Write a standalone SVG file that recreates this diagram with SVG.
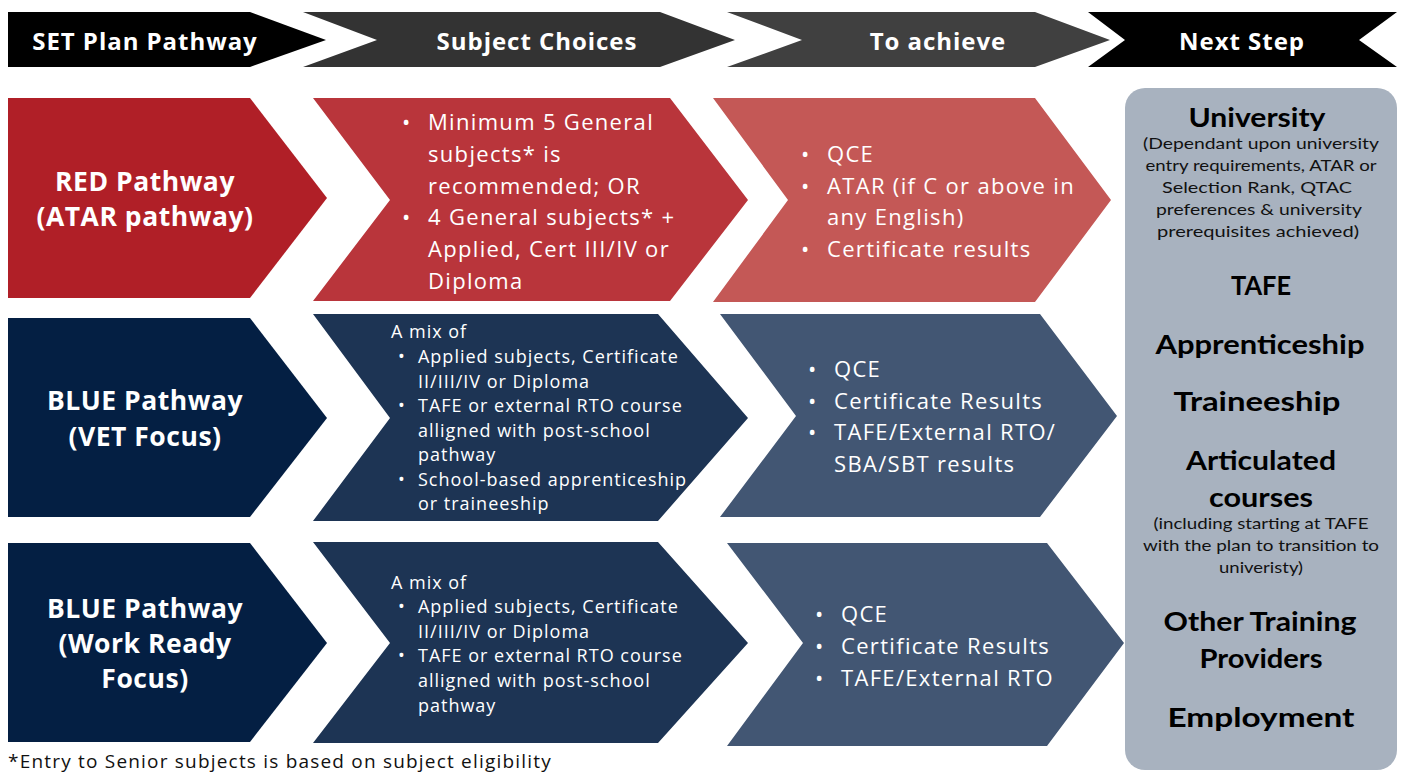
<svg xmlns="http://www.w3.org/2000/svg" width="1405" height="772" viewBox="0 0 1405 772">
<style>
text{font-family:"Open Sans","Liberation Sans",sans-serif;dominant-baseline:central}
.hd{fill:#fff;font-weight:700;font-size:24px;letter-spacing:0.04em;text-anchor:middle}
.lbl{fill:#fff;font-weight:700;font-size:26.5px;letter-spacing:0.02em;text-anchor:middle}
.b{fill:#fff;font-size:22px;letter-spacing:0.06em}
.s{fill:#fff;font-size:18px;letter-spacing:0.055em}
.rt{fill:#000;font-family:Lato,"Open Sans",sans-serif;font-weight:700;font-size:27px;text-anchor:middle}
.rs{fill:#111;font-family:Lato,"Open Sans",sans-serif;font-size:16px;text-anchor:middle}
.fn{fill:#111;font-size:19px;letter-spacing:0.063em}
</style>
<rect width="1405" height="772" fill="#fff"/>
<g id="headers">
<g id="h1"><polygon points="8,12 250,12 326,40 250,67 8,67" fill="#000"/><text class="hd" x="145" y="40">SET Plan Pathway</text></g>
<g id="h2"><polygon points="303,12 660,12 735,40 660,67 303,67 377,40" fill="#333"/><text class="hd" x="537" y="40">Subject Choices</text></g>
<g id="h3"><polygon points="727,12 1035,12 1110,40 1035,67 727,67 802,40" fill="#404040"/><text class="hd" x="938" y="40">To achieve</text></g>
<g id="h4"><polygon points="1088,12 1397,12 1359,40 1397,67 1088,67 1125,40" fill="#000"/><text class="hd" x="1242" y="40">Next Step</text></g>
</g>
<g id="red-row">
<g id="r1"><polygon points="8,98 250,98 327,198 250,298 8,298" fill="#B01F27"/>
<text class="lbl" x="145" y="181">RED Pathway</text><text class="lbl" x="145" y="216">(ATAR pathway)</text></g>
<g id="r2"><polygon points="313,98 670,98 748,200 670,301 313,301 390,200" fill="#B9353B"/>
<text class="b" x="402" y="121">•</text><text class="b" x="428" y="121">Minimum 5 General</text>
<text class="b" x="428" y="153">subjects* is</text>
<text class="b" x="428" y="185">recommended; OR</text>
<text class="b" x="402" y="216">•</text><text class="b" x="428" y="216">4 General subjects* +</text>
<text class="b" x="428" y="248">Applied, Cert III/IV or</text>
<text class="b" x="428" y="280">Diploma</text></g>
<g id="r3"><polygon points="713,98 1035,98 1111,200 1035,302 713,302 788,200" fill="#C45856"/>
<text class="b" x="801" y="153">•</text><text class="b" x="827" y="153">QCE</text>
<text class="b" x="801" y="185">•</text><text class="b" x="827" y="185">ATAR (if C or above in</text>
<text class="b" x="827" y="216">any English)</text>
<text class="b" x="801" y="248">•</text><text class="b" x="827" y="248">Certificate results</text></g>
</g>
<g id="blue-row-1">
<g id="b1"><polygon points="8,318 250,318 327,418 250,517 8,517" fill="#041F43"/>
<text class="lbl" x="145" y="400">BLUE Pathway</text><text class="lbl" x="145" y="436">(VET Focus)</text></g>
<g id="b2"><polygon points="313,314 658,314 748,418 658,521 313,521 390,418" fill="#1D3454"/>
<text class="s" x="391" y="331">A mix of</text>
<text class="s" x="398" y="356">•</text><text class="s" x="418" y="356">Applied subjects, Certificate</text>
<text class="s" x="418" y="381">II/III/IV or Diploma</text>
<text class="s" x="398" y="405">•</text><text class="s" x="418" y="405">TAFE or external RTO course</text>
<text class="s" x="418" y="430">alligned with post-school</text>
<text class="s" x="418" y="454">pathway</text>
<text class="s" x="398" y="479">•</text><text class="s" x="418" y="479">School-based apprenticeship</text>
<text class="s" x="418" y="503">or traineeship</text></g>
<g id="b3"><polygon points="720,314 1040,314 1117,416 1040,517 720,517 796,416" fill="#425673"/>
<text class="b" x="808" y="368">•</text><text class="b" x="834" y="368">QCE</text>
<text class="b" x="808" y="400">•</text><text class="b" x="834" y="400">Certificate Results</text>
<text class="b" x="808" y="431">•</text><text class="b" x="834" y="431">TAFE/External RTO/</text>
<text class="b" x="834" y="463">SBA/SBT results</text></g>
</g>
<g id="blue-row-2">
<g id="b4"><polygon points="8,543 250,543 327,643 250,742 8,742" fill="#041F43"/>
<text class="lbl" x="145" y="608">BLUE Pathway</text><text class="lbl" x="145" y="643">(Work Ready</text><text class="lbl" x="145" y="678">Focus)</text></g>
<g id="b5"><polygon points="313,542 658,542 748,643 658,743 313,743 390,643" fill="#1D3454"/>
<text class="s" x="391" y="582">A mix of</text>
<text class="s" x="398" y="606">•</text><text class="s" x="418" y="606">Applied subjects, Certificate</text>
<text class="s" x="418" y="631">II/III/IV or Diploma</text>
<text class="s" x="398" y="655">•</text><text class="s" x="418" y="655">TAFE or external RTO course</text>
<text class="s" x="418" y="680">alligned with post-school</text>
<text class="s" x="418" y="705">pathway</text></g>
<g id="b6"><polygon points="727,543 1047,543 1124,643 1047,746 727,746 803,643" fill="#425673"/>
<text class="b" x="815" y="613">•</text><text class="b" x="841" y="613">QCE</text>
<text class="b" x="815" y="645">•</text><text class="b" x="841" y="645">Certificate Results</text>
<text class="b" x="815" y="677">•</text><text class="b" x="841" y="677">TAFE/External RTO</text></g>
</g>
<g id="next-step">
<rect x="1125" y="88" width="272" height="682" rx="20" fill="#A8B2BF"/>
<text class="rt" x="1257" y="116" textLength="137" lengthAdjust="spacingAndGlyphs">University</text>
<text class="rs" x="1261" y="142" textLength="236" lengthAdjust="spacingAndGlyphs">(Dependant upon university</text>
<text class="rs" x="1261" y="164" textLength="231" lengthAdjust="spacingAndGlyphs">entry requirements, ATAR or</text>
<text class="rs" x="1257" y="186" textLength="190" lengthAdjust="spacingAndGlyphs">Selection Rank, QTAC</text>
<text class="rs" x="1259" y="208" textLength="206" lengthAdjust="spacingAndGlyphs">preferences &amp; university</text>
<text class="rs" x="1258" y="230" textLength="202" lengthAdjust="spacingAndGlyphs">prerequisites achieved)</text>
<text class="rt" x="1261" y="284" textLength="60" lengthAdjust="spacingAndGlyphs">TAFE</text>
<text class="rt" x="1260" y="343" textLength="209" lengthAdjust="spacingAndGlyphs">Apprenticeship</text>
<text class="rt" x="1257" y="400" textLength="167" lengthAdjust="spacingAndGlyphs">Traineeship</text>
<text class="rt" x="1261" y="459" textLength="150" lengthAdjust="spacingAndGlyphs">Articulated</text>
<text class="rt" x="1261" y="496" textLength="104" lengthAdjust="spacingAndGlyphs">courses</text>
<text class="rs" x="1261" y="522" textLength="215" lengthAdjust="spacingAndGlyphs">(including starting at TAFE</text>
<text class="rs" x="1261" y="544" textLength="236" lengthAdjust="spacingAndGlyphs">with the plan to transition to</text>
<text class="rs" x="1261" y="566" textLength="84" lengthAdjust="spacingAndGlyphs">univeristy)</text>
<text class="rt" x="1260" y="620" textLength="193" lengthAdjust="spacingAndGlyphs">Other Training</text>
<text class="rt" x="1261" y="657" textLength="123" lengthAdjust="spacingAndGlyphs">Providers</text>
<text class="rt" x="1261" y="716" textLength="187" lengthAdjust="spacingAndGlyphs">Employment</text>
</g>
<text class="fn" x="8" y="761">*Entry to Senior subjects is based on subject eligibility</text>
<g id="connectors"/>
</svg>
